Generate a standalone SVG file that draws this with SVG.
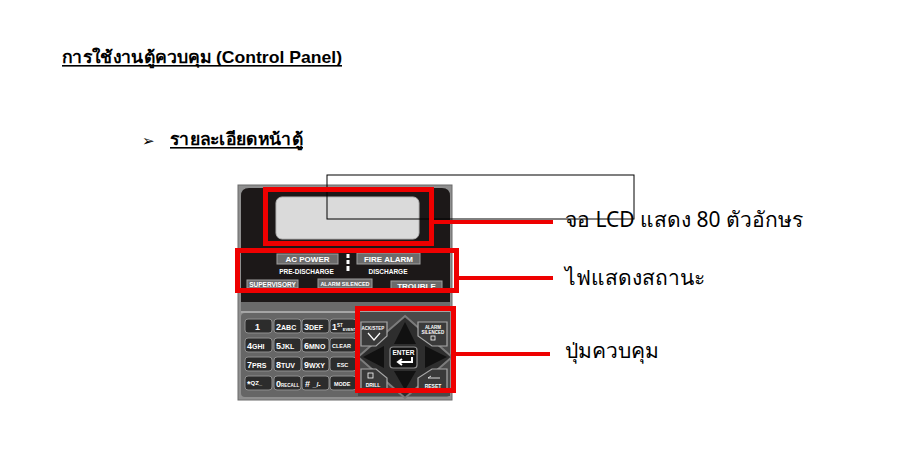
<svg xmlns="http://www.w3.org/2000/svg" width="903" height="459" viewBox="0 0 903 459">
<style>
.th{font-family:"Noto Sans","DejaVu Sans",sans-serif;fill:#000}
.hd{font-family:"Liberation Sans","Noto Sans",sans-serif;font-weight:bold;font-size:17px;fill:#000}
.lbl{font-size:21px}
.red{fill:none;stroke:#ee0000;stroke-width:5}
.rl{stroke:#ee0000;stroke-width:4;fill:none}
.led{fill:#6b6b6b;stroke:#a0a0a0;stroke-width:1}
.lt{font-family:"Liberation Sans",sans-serif;font-weight:bold;fill:#fff;text-anchor:middle}
.key{fill:#2c2c2c;stroke:#8e8e8e;stroke-width:1}
.kt{font-family:"Liberation Sans",sans-serif;font-weight:bold;fill:#fff}
.corner{fill:#3a3a3a;stroke:#a8a8a8;stroke-width:1.2}
.tri{fill:#111}
</style>
<rect width="903" height="459" fill="#fff"/>

<g id="heading">
<text class="hd" x="62" y="63" textLength="280" lengthAdjust="spacingAndGlyphs">การใช้งานตู้ควบคุม (Control Panel)</text>
<rect x="62" y="65" width="280" height="1.6" fill="#000"/>
</g>

<g id="subheading">
<text x="142" y="146" font-family="DejaVu Sans,sans-serif" font-size="15" fill="#000">➢</text>
<text class="hd" x="170" y="145" textLength="133" lengthAdjust="spacingAndGlyphs">รายละเอียดหน้าตู้</text>
<rect x="170" y="147" width="133" height="1.6" fill="#000"/>
</g>

<g id="panel">
<rect x="238" y="185" width="214" height="215" fill="#8f8f8f" stroke="#6a6a6a" stroke-width="1"/>
<path d="M241,302 V196 Q241,188 249,188 H442 Q450,188 450,196 V302 Z" fill="#1c1818"/>
<rect x="241" y="302" width="209" height="9" fill="#6b6b6b"/>
<rect x="241" y="311" width="209" height="2" fill="#a5a5a5"/>
<rect x="241" y="313" width="209" height="84" rx="4" fill="#666"/>
<rect x="276" y="197" width="143" height="42" rx="6" fill="#dadada" stroke="#b5b5b5" stroke-width="1"/>

<g id="leds">
<rect class="led" x="277" y="254" width="61" height="10"/>
<text class="lt" x="307.5" y="262" font-size="8">AC POWER</text>
<rect class="led" x="357" y="253" width="63" height="11"/>
<text class="lt" x="388.5" y="261.5" font-size="8">FIRE ALARM</text>
<rect x="346.5" y="248" width="3" height="4" fill="#fff"/>
<rect x="346.5" y="254" width="3" height="4" fill="#fff"/>
<rect x="346.5" y="260" width="3" height="4" fill="#fff"/>
<rect x="346.5" y="266" width="3" height="5" fill="#fff"/>
<text class="lt" x="306.5" y="274" font-size="6.5">PRE-DISCHARGE</text>
<text class="lt" x="388" y="274" font-size="6.5">DISCHARGE</text>
<rect class="led" x="247" y="280" width="51" height="8"/>
<text class="lt" x="272.5" y="286.5" font-size="6.5">SUPERVISORY</text>
<rect class="led" x="318" y="279" width="54" height="9"/>
<text class="lt" x="345" y="286" font-size="5.5">ALARM SILENCED</text>
<rect class="led" x="391" y="281" width="51" height="9"/>
<text class="lt" x="416.5" y="289" font-size="8">TROUBLE</text>
</g>

<g id="keys">
<rect class="key" x="245" y="319" width="27" height="14" rx="3"/>
<rect class="key" x="274" y="319" width="27" height="14" rx="3"/>
<rect class="key" x="302" y="319" width="27" height="14" rx="3"/>
<rect class="key" x="330" y="319" width="26" height="14" rx="3"/>
<rect class="key" x="245" y="338" width="27" height="14" rx="3"/>
<rect class="key" x="274" y="338" width="27" height="14" rx="3"/>
<rect class="key" x="302" y="338" width="27" height="14" rx="3"/>
<rect class="key" x="330" y="338" width="26" height="14" rx="3"/>
<rect class="key" x="245" y="357" width="27" height="14" rx="3"/>
<rect class="key" x="274" y="357" width="27" height="14" rx="3"/>
<rect class="key" x="302" y="357" width="27" height="14" rx="3"/>
<rect class="key" x="330" y="357" width="26" height="14" rx="3"/>
<rect class="key" x="245" y="376" width="27" height="14" rx="3"/>
<rect class="key" x="274" y="376" width="27" height="14" rx="3"/>
<rect class="key" x="302" y="376" width="27" height="14" rx="3"/>
<rect class="key" x="330" y="376" width="26" height="14" rx="3"/>
<text class="kt" x="255" y="330" font-size="9">1</text>
<text class="kt" x="276" y="330" font-size="9">2<tspan font-size="7">ABC</tspan></text>
<text class="kt" x="304" y="330" font-size="9">3<tspan font-size="7">DEF</tspan></text>
<text class="kt" x="332" y="330" font-size="9">1<tspan font-size="4.5" dy="-3">ST</tspan><tspan font-size="4" dy="4">EVENT</tspan></text>
<text class="kt" x="247" y="349" font-size="9">4<tspan font-size="7">GHI</tspan></text>
<text class="kt" x="276" y="349" font-size="9">5<tspan font-size="7">JKL</tspan></text>
<text class="kt" x="304" y="349" font-size="9">6<tspan font-size="7">MNO</tspan></text>
<text class="kt" x="332" y="348" font-size="5.5">CLEAR</text>
<text class="kt" x="247" y="368" font-size="9">7<tspan font-size="7">PRS</tspan></text>
<text class="kt" x="276" y="368" font-size="9">8<tspan font-size="7">TUV</tspan></text>
<text class="kt" x="304" y="368" font-size="9">9<tspan font-size="7">WXY</tspan></text>
<text class="kt" x="337" y="367" font-size="5.5">ESC</text>
<text class="kt" x="247" y="387" font-size="9">*<tspan font-size="6" dy="-2">QZ_</tspan></text>
<text class="kt" x="276" y="387" font-size="9">0<tspan font-size="4.5">RECALL</tspan></text>
<text class="kt" x="305" y="387" font-size="9"># <tspan font-size="7">_/-</tspan></text>
<text class="kt" x="334" y="386" font-size="5.5">MODE</text>
</g>

<g id="nav">
<rect x="358" y="312" width="92" height="84" fill="#4a4a4a"/>
<polygon points="405,316 452,357 405,398 358,357" fill="#2e2e2e" stroke="#7c7c7c" stroke-width="2"/>
<polygon class="tri" points="405,322 394,344 416,344"/>
<polygon class="tri" points="394,371 416,371 405,390"/>
<polygon class="tri" points="363,357 384,346 384,368"/>
<polygon class="tri" points="447,357 425,346 425,368"/>
<polygon class="corner" points="361,322 387,322 387,336 376,346 361,346"/>
<text class="lt" x="373" y="330" font-size="4.5">ACK/STEP</text>
<path d="M368,333 L374,340 L380,333" stroke="#fff" stroke-width="1.2" fill="none"/>
<polygon class="corner" points="418,322 447,322 447,346 432,346 418,336"/>
<text class="lt" x="433" y="329" font-size="4.5">ALARM</text>
<text class="lt" x="433" y="334" font-size="4.5">SILENCED</text>
<rect x="431" y="336" width="4" height="4" fill="none" stroke="#fff" stroke-width="0.8"/>
<polygon class="corner" points="361,369 376,369 387,378 387,392 361,392"/>
<rect x="368" y="373" width="5" height="5" fill="none" stroke="#fff" stroke-width="0.8"/>
<text class="lt" x="373" y="387" font-size="5">DRILL</text>
<polygon class="corner" points="432,369 447,369 447,392 418,392 418,378"/>
<path d="M428,378 H440 M428,378 L431,376" stroke="#fff" stroke-width="0.8" fill="none"/>
<text class="lt" x="433" y="388" font-size="5">RESET</text>
<rect x="390" y="347" width="27" height="21" rx="3" fill="#111" stroke="#8c8c8c" stroke-width="1.2"/>
<text class="lt" x="403.5" y="355" font-size="6.5">ENTER</text>
<path d="M412,357 V362 H399 M402,359 L398,362 L402,365" stroke="#fff" stroke-width="2" fill="none"/>
</g>
</g>

<g id="connectors">
<rect x="327" y="175" width="307" height="44" fill="none" stroke="#000" stroke-width="1"/>
<line class="rl" x1="434" y1="222" x2="553" y2="222"/>
<line class="rl" x1="459" y1="278" x2="553" y2="278"/>
<line class="rl" x1="456" y1="354" x2="550" y2="354"/>
</g>

<g id="lcd-callout">
<rect class="red" x="265.5" y="189.5" width="166" height="54"/>
<text class="th lbl" x="565" y="227">จอ LCD แสดง 80 ตัวอักษร</text>
</g>
<g id="led-callout">
<rect class="red" x="237.5" y="250.5" width="219" height="40"/>
<text class="th lbl" x="565" y="285">ไฟแสดงสถานะ</text>
</g>
<g id="keypad-callout">
<rect class="red" x="357.5" y="308.5" width="96" height="82"/>
<text class="th lbl" x="565" y="358">ปุ่มควบคุม</text>
</g>
</svg>
